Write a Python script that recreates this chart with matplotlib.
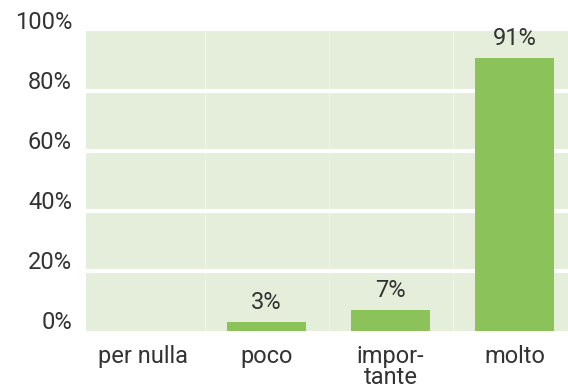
import matplotlib
matplotlib.use("Agg")
from matplotlib import pyplot as plt
import matplotlib.transforms as mtransforms

plt.rcParams['font.family'] = ['Roboto', 'DejaVu Sans']

categories = ['per nulla', 'poco', 'impor-\ntante', 'molto']
values = [0, 3, 7, 91]
labels = ['', '3%', '7%', '91%']
yticks = [0, 20, 40, 60, 80, 100]

bg = '#e5eedb'
barcol = '#8bc35a'
txt = '#333333'
fs = 17

fig = plt.figure(figsize=(5.68, 3.89), dpi=100)
ax = fig.add_axes([0.1514, 0.149, 0.8486, 0.7713])
ax.set_facecolor(bg)

x = list(range(len(categories)))
ax.bar(x, values, width=0.64, color=barcol, zorder=3)

# white horizontal grid
for t in yticks[1:-1]:
    ax.axhline(t, color='white', lw=3, zorder=2)
# faint separators between categories
for b in [0.5, 1.5, 2.5]:
    ax.axvline(b, color='white', lw=0.8, alpha=0.4, zorder=1)

for xi, v, l in zip(x, values, labels):
    if l:
        ax.annotate(l, (xi, v), xytext=(0, 6), textcoords='offset points',
                    ha='center', va='bottom', fontsize=fs, color=txt)

# y labels sit a little above their grid lines
ylab_tr = ax.get_yaxis_transform() + mtransforms.ScaledTranslation(
    -14 / 100, 9 / 100, fig.dpi_scale_trans)
for t in yticks:
    ax.text(0, t, f'{t}%', transform=ylab_tr, ha='right', va='center',
            fontsize=fs, color=txt)

ax.set_xlim(-0.456, 3.43)
ax.set_ylim(0, 100)
ax.set_yticks([])
ax.set_xticks(x)
ax.set_xticklabels(categories, fontsize=fs, color=txt, linespacing=0.88, va='top')
ax.tick_params(length=0)
ax.tick_params(axis='x', pad=10)
for s in ax.spines.values():
    s.set_visible(False)

plt.savefig('out.png', dpi=100)
